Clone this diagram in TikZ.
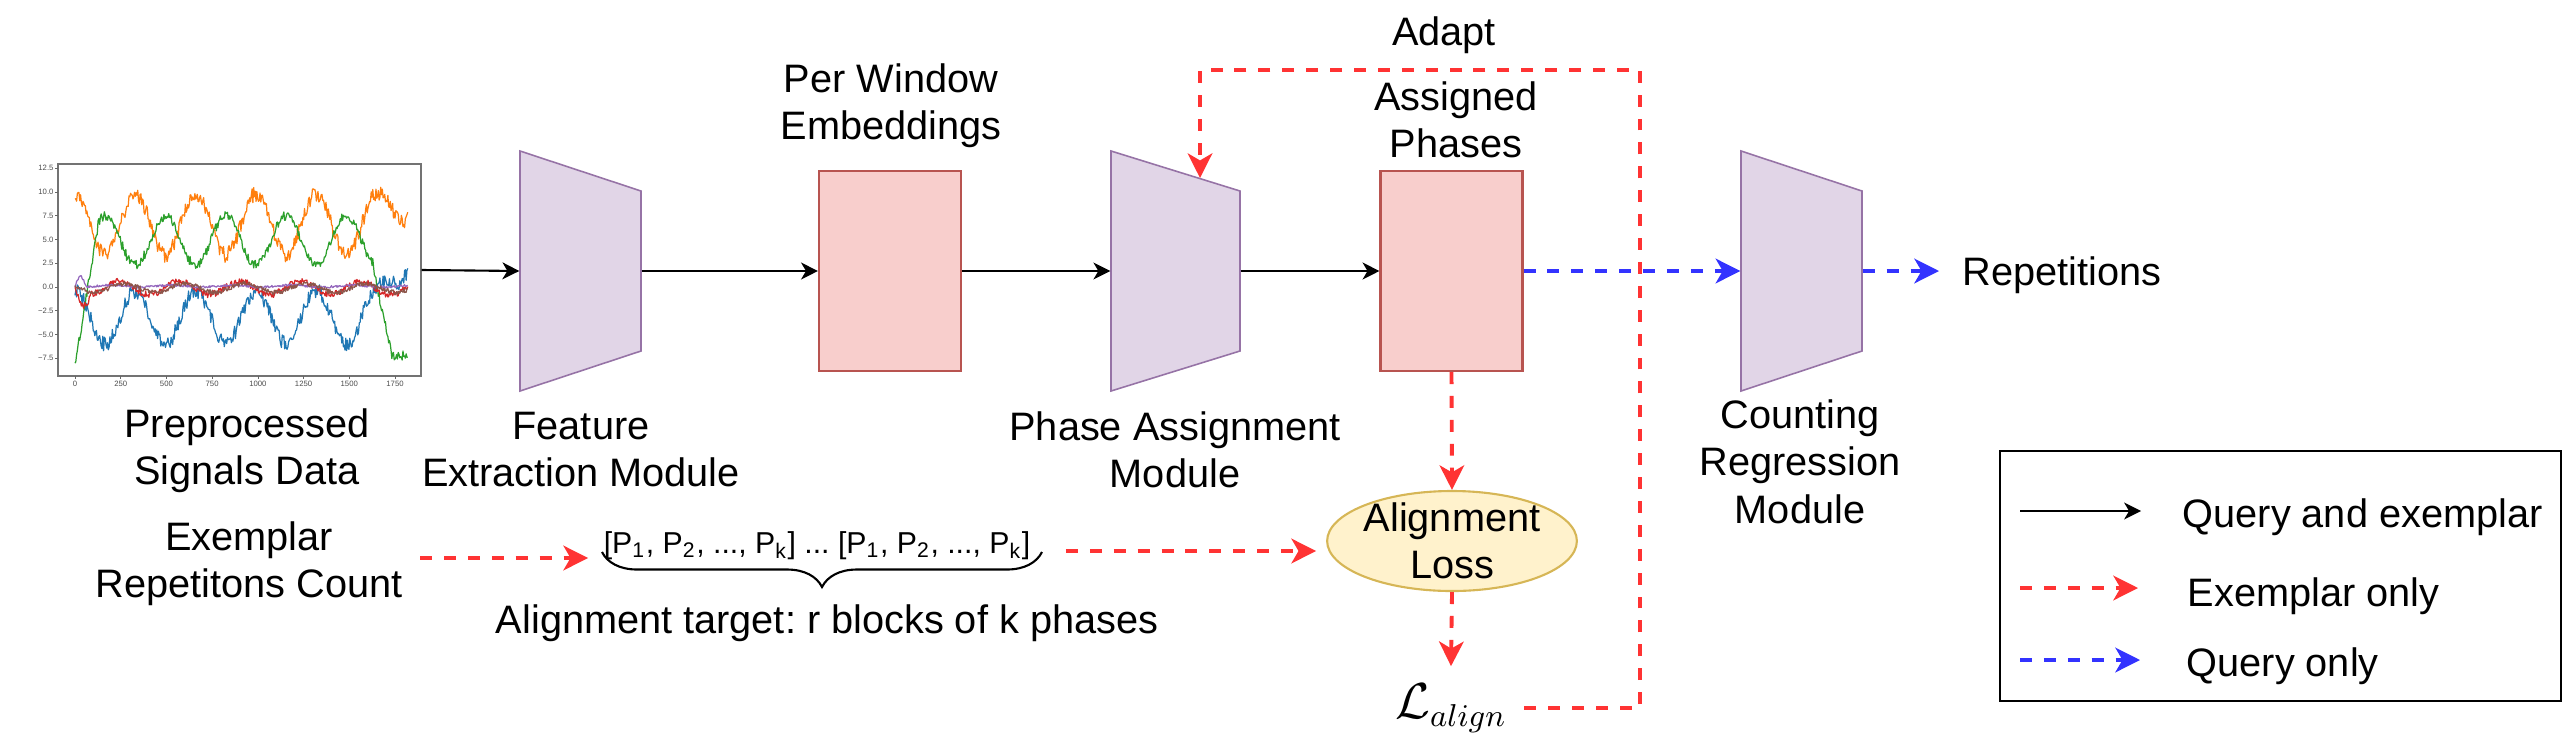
\documentclass[tikz,border=0pt]{standalone}
\usepackage{fontspec}
\setmainfont{Liberation Sans}
\frenchspacing
\usetikzlibrary{arrows.meta,shapes.geometric,decorations.pathreplacing}
\definecolor{modfill}{HTML}{E1D5E7}
\definecolor{moddraw}{HTML}{9673A6}
\definecolor{embfill}{HTML}{F8CECC}
\definecolor{embdraw}{HTML}{B85450}
\definecolor{lossfill}{HTML}{FFF2CC}
\definecolor{lossdraw}{HTML}{D6B656}
\definecolor{exred}{HTML}{FF3333}
\definecolor{qblue}{HTML}{3333FF}
\definecolor{tabblue}{HTML}{1F77B4}
\definecolor{taborange}{HTML}{FF7F0E}
\definecolor{tabgreen}{HTML}{2CA02C}
\definecolor{tabred}{HTML}{D62728}
\definecolor{tabpurple}{HTML}{9467BD}
\definecolor{tabbrown}{HTML}{8C564B}

\begin{document}
\begin{tikzpicture}[
    every node/.style = {font=\fontsize{11.3}{13.5}\selectfont, align=center, inner sep=0},
    module/.style = {fill=modfill, draw=moddraw, line width=0.45pt},
    slot/.style = {minimum width=1.21cm, minimum height=2.4cm},
    embbox/.style = {rectangle, draw=embdraw, fill=embfill, line width=0.6pt,
      minimum width=1.42cm, minimum height=2cm},
    flow/.style = {-{Stealth[length=4.8pt,width=4.8pt,inset=1.4pt]}, line width=0.6pt},
    exflow/.style = {-{Stealth[length=7pt,width=7pt,inset=2pt]}, draw=exred,
      line width=1.1pt, dash pattern=on 3.4pt off 3.4pt},
    qflow/.style = {exflow, draw=qblue},
    tick/.style = {font=\fontsize{2.2}{2.6}\selectfont, text=black!70, inner sep=0.3pt},
    sig/.style = {line width=0.35pt, line join=round}]
  \useasboundingbox (0,0) rectangle (25.64,-7.53);

  % signal plot
  \node[draw=black!55, line width=0.4pt, minimum width=3.63cm, minimum height=2.12cm] (plot) at (2.395,-2.70) {};
  \begin{scope}[shift={(0.75,-2.8705)}, xscale=0.18286, yscale=0.095]
    \foreach \v/\l in {-7.5/−7.5, -5/−5.0, -2.5/−2.5, 0/0.0, 2.5/2.5, 5/5.0, 7.5/7.5, 10/10.0, 12.5/12.5}
      \draw[black!60, line width=0.2pt] (-0.93,\v) -- (-1.1,\v) node[tick, anchor=east] {\l};
    \foreach \t/\l in {0/0, 2.5/250, 5/500, 7.5/750, 10/1000, 12.5/1250, 15/1500, 17.5/1750}
      \draw[black!60, line width=0.2pt] (\t,-9.37) -- (\t,-9.7) node[tick, anchor=north] {\l};
    \pgfmathsetseed{42}
    \draw[sig, tabblue] plot[domain=0:18.2, samples=420]
      (\x, {-3.2-2.8*cos(360*(\x-1.65)/3.3) + ifthenelse(\x>16.5, 4.5*(\x-16.5), 0) + 0.8*rand});
    \draw[sig, taborange] plot[domain=0:18.2, samples=420]
      (\x, {6.6-3.2*cos(360*(\x-1.65)/3.3) + ifthenelse(\x>16.6, 2.3*(\x-16.6), 0) + 0.8*rand});
    \draw[sig, tabgreen] plot[domain=0:18.2, samples=420]
      (\x, {ifthenelse(\x<1.3, -8.3+15.3*\x/1.3, ifthenelse(\x>16.3, max(-7.2, 2-9*(\x-16.3)), 4.9+2.6*cos(360*(\x-1.65)/3.3))) + 0.5*rand});
    \draw[sig, tabred] plot[domain=0:18.2, samples=420]
      (\x, {-0.1+0.7*cos(360*(\x-2.4)/3.3) + ifthenelse(\x<0.9, -1.2*sin(200*\x), 0) + 0.35*rand});
    \draw[sig, tabpurple] plot[domain=0:18.2, samples=420]
      (\x, {0.1+0.1*cos(360*(\x-2)/3.3) + ifthenelse(\x<0.6, 1.1*sin(300*\x), 0) + 0.12*rand});
    \draw[sig, tabbrown] plot[domain=0:18.2, samples=420]
      (\x, {-0.1+0.45*cos(360*(\x-2.7)/3.3) + 0.25*rand});
  \end{scope}
  \node[anchor=north] (plottxt) at (2.47,-4.08) {Preprocessed\\Signals Data};

  % modules
  \draw[module] (5.20,-1.51) -- (6.41,-1.91) -- (6.41,-3.51) -- (5.20,-3.91) -- cycle;
  \node[slot] (fe) at (5.805,-2.71) {};
  \draw[module] (11.11,-1.51) -- (12.40,-1.91) -- (12.40,-3.51) -- (11.11,-3.91) -- cycle;
  \node[slot, minimum width=1.29cm] (pa) at (11.755,-2.71) {};
  \draw[module] (17.41,-1.51) -- (18.62,-1.91) -- (18.62,-3.51) -- (17.41,-3.91) -- cycle;
  \node[slot] (cr) at (18.015,-2.71) {};
  \node[anchor=north] (fetxt) at (5.81,-4.11) {Feature\\Extraction Module};
  \node[anchor=north] (patxt) at (11.75,-4.11) {Phase Assignment\\Module};
  \node[anchor=north] (crtxt) at (18.00,-3.99) {Counting\\Regression\\Module};

  % embeddings and phases
  \node[embbox] (emb) at (8.90,-2.71) {};
  \node[anchor=north] (embtxt) at (8.91,-0.63) {Per Window\\Embeddings};
  \node[embbox] (ap) at (14.515,-2.71) {};
  \node[anchor=north] (aptxt) at (14.56,-0.81) {Assigned\\Phases};
  \node[anchor=base west] (rep) at (19.62,-2.85) {Repetitions};

  \draw[flow] (plot.east) -- (fe.west);
  \draw[flow] (fe.east) -- (emb.west);
  \draw[flow] (emb.east) -- (pa.west);
  \draw[flow] (pa.east) -- (ap.west);
  \draw[qflow] (ap.east) -- (cr.west);
  \draw[qflow, shorten >=0.23cm] (cr.east) -- (cr.east -| rep.west);

  % exemplar branch
  \node[anchor=north] (extxt) at (2.49,-5.21) {Exemplar\\Repetitons Count};
  \node[font=\fontsize{8.6}{10}\selectfont, inner sep=0.15cm] (tgt) at (8.17,-5.46)
    {[P\textsubscript{1}, P\textsubscript{2}, ..., P\textsubscript{k}] ... [P\textsubscript{1}, P\textsubscript{2}, ..., P\textsubscript{k}]};
  \draw[decorate, decoration={brace, mirror, amplitude=0.35cm}, line width=0.6pt] (6.02,-5.52) -- (10.42,-5.52);
  \node[anchor=base] (tgttxt) at (8.27,-6.33) {Alignment target: r blocks of k phases};
  \node[ellipse, draw=lossdraw, fill=lossfill, line width=0.6pt, inner ysep=-0.9pt,
    minimum width=2.49cm, minimum height=1.0cm] (loss) at (14.52,-5.41) {Alignment\\Loss};
  \node[font=\fontsize{13.5}{16}\selectfont, inner sep=0.17cm] (la) at (14.51,-7.08) {$\mathcal{L}_{align}$};
  \node[anchor=north] (adapt) at (14.44,-0.16) {Adapt};
  \coordinate (upr) at (16.40,-0.70);
  \coordinate (hit) at (12.00,-1.78);

  \draw[exflow, shorten <=0.17cm] ([yshift=-1.2mm]tgt.west -| extxt.east) -- ([yshift=-1.2mm]tgt.west);
  \draw[exflow, shorten <=0.2cm, shorten >=0.1cm] ([yshift=-0.5mm]tgt.east) -- ([yshift=-0.5mm]tgt.east -| loss.west);
  \draw[exflow] (ap.south) -- (loss.north);
  \draw[exflow] (loss.south) -- (la.north);
  \draw[exflow] (la.east) -| (upr) -| (hit);

  % legend
  \node[draw, line width=0.6pt, minimum width=5.61cm, minimum height=2.5cm] (leg) at (22.805,-5.76) {};
  \node[anchor=base west] (qe) at (21.82,-5.27) {Query and exemplar};
  \node[anchor=base west] (eo) at (21.87,-6.06) {Exemplar only};
  \node[anchor=base west] (qo) at (21.86,-6.76) {Query only};
  \coordinate (s1) at (20.20,-5.11);
  \coordinate (s2) at (20.20,-5.88);
  \coordinate (s3) at (20.20,-6.60);
  \draw[flow, shorten >=0.41cm] (s1) -- (s1 -| qe.west);
  \draw[exflow, shorten >=0.49cm] (s2) -- (s2 -| eo.west);
  \draw[qflow, shorten >=0.46cm] (s3) -- (s3 -| qo.west);
\end{tikzpicture}
\end{document}
